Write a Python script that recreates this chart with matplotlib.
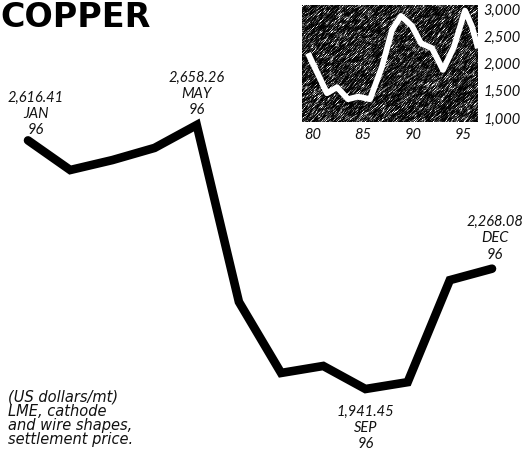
import numpy as np
import matplotlib
matplotlib.use("Agg")
import matplotlib.pyplot as plt

# 1996 monthly copper settlement price (US$/mt)
months = ["JAN", "FEB", "MAR", "APR", "MAY", "JUN",
          "JUL", "AUG", "SEP", "OCT", "NOV", "DEC"]
prices_1996 = [2616.41, 2536, 2563, 2596, 2658.26, 2178,
               1985, 2004, 1941.45, 1960, 2237, 2268.08]
labelled = ["JAN", "MAY", "SEP", "DEC"]

# Long-run history, 1980-96
hist_years = [79.5, 81.4, 82.4, 83.5, 84.5, 85.7, 86.9, 87.9, 88.8,
              89.9, 90.8, 91.9, 93.0, 94.1, 95.2, 95.9, 96.5]
hist_prices = [2188, 1455, 1565, 1345, 1392, 1345, 1942, 2615, 2872,
               2688, 2371, 2280, 1882, 2309, 2969, 2676, 2280]
hist_xticks = [80, 85, 90, 95]
hist_yticks = [1000, 1500, 2000, 2500, 3000]

W, H, DPI = 523, 453, 100
fig = plt.figure(figsize=(W / DPI, H / DPI), dpi=DPI)
fig.patch.set_facecolor("white")

FONT = "Lato"
INK = "#111111"

# ---- main chart ----
ax = fig.add_axes([0, 0, 1, 1])
ax.set_axis_off()
x = np.arange(1, 13)
ax.plot(x, prices_1996, color="black", lw=6.2,
        solid_capstyle="round", solid_joinstyle="miter")
ax.set_xlim(0.336, 12.735)
ax.set_ylim(1767.7, 2997.6)

label_offsets = {"JAN": (8, 3, "bottom"), "MAY": (0, 8, "bottom"),
                 "DEC": (3, 7, "bottom"), "SEP": (0, -16, "top")}
for m in labelled:
    i = months.index(m)
    v = prices_1996[i]
    dx, dy, va = label_offsets[m]
    ax.annotate(f"{v:,.2f}\n{m}\n96", xy=(x[i], v),
                xytext=(dx, dy), textcoords="offset pixels",
                ha="center", va=va, fontsize=10.5, family=FONT,
                style="italic", linespacing=1.2, color=INK)

fig.text(0 / W, 1 - 1 / H, "COPPER", ha="left", va="top",
         fontsize=24, fontweight="bold", family="DejaVu Sans",
         color="black")

fig.text(8 / W, 1 - 390 / H,
         "(US dollars/mt)\nLME, cathode\nand wire shapes,\nsettlement price.",
         ha="left", va="top", fontsize=10.5, family="DejaVu Sans",
         style="oblique", linespacing=0.93, color=INK)

# ---- inset: history since 1980 ----
l, r, t, b = 302, 478, 5, 122
ax2 = fig.add_axes([l / W, 1 - b / H, (r - l) / W, (b - t) / H])
xmin, xmax = 78.9, 96.5
ymin, ymax = 927, 3073

# dark, scratchy print texture at pixel resolution
rng = np.random.default_rng(7)
noise = rng.random((b - t, r - l))
tex = np.zeros_like(noise)
for k in range(-1, 2):
    tex += np.roll(np.roll(noise, k, axis=0), -k, axis=1)
tex /= 3
tex = np.clip((tex - 0.28) / 0.6, 0, 1) ** 2.4
ax2.imshow(tex, cmap="gray", vmin=0, vmax=1, aspect="auto",
           extent=(xmin, xmax, ymin, ymax), interpolation="nearest",
           zorder=0)
ax2.plot(hist_years, hist_prices, color="white", lw=4.2,
         solid_joinstyle="round", solid_capstyle="butt", zorder=2)
ax2.set_xlim(xmin, xmax)
ax2.set_ylim(ymin, ymax)
for s in ax2.spines.values():
    s.set_visible(False)
ax2.yaxis.tick_right()
ax2.set_yticks(hist_yticks)
ax2.set_yticklabels([f"{v:,}" for v in hist_yticks], family=FONT,
                    fontstyle="italic", fontsize=10.5, color=INK)
ax2.set_xticks(hist_xticks)
ax2.set_xticklabels([str(v) for v in hist_xticks], family=FONT,
                    fontstyle="italic", fontsize=10.5, color=INK)
ax2.tick_params(length=0, pad=4)

fig.savefig("out.png", dpi=DPI, facecolor="white")
